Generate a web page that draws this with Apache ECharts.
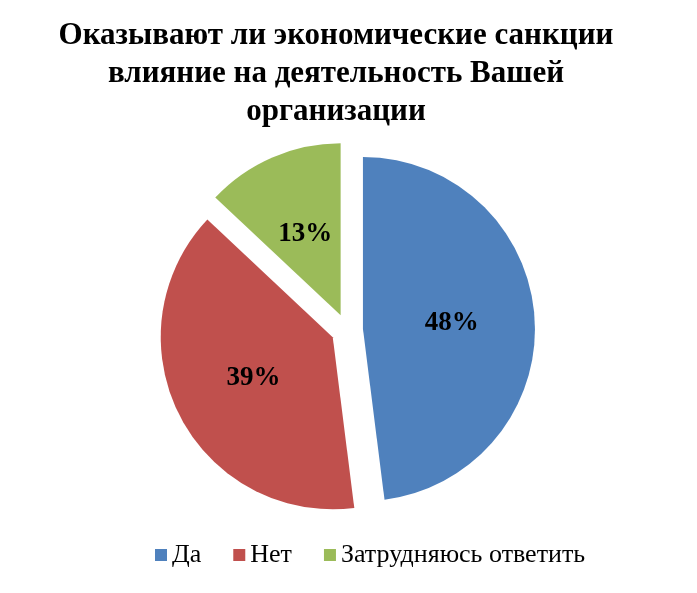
<!DOCTYPE html>
<html>
<head>
<meta charset="utf-8">
<script src="https://cdn.jsdelivr.net/npm/echarts@6/dist/echarts.min.js"></script>
<style>html,body{margin:0;padding:0;background:#fff}#chart{width:697px;height:593px}</style>
</head>
<body>
<div id="chart"></div>
<script>
var categories = ["Да", "Нет", "Затрудняюсь ответить"];
var values = [48, 39, 13];
var colors = ["#4F81BD", "#C0504D", "#9BBB59"];

var chart = echarts.init(document.getElementById("chart"));
// сдвиг подписей ближе к положению на оригинале
var labelShift = [[30, -9], [-34, 19], [-19, -40]];
var data = categories.map(function (name, i) {
	return {
		name: name,
		value: values[i],
		selected: true,
		itemStyle: { color: colors[i] },
		label: { offset: labelShift[i] }
	};
});
chart.setOption({
	animation: false,
	title: {
		text: "Оказывают ли экономические санкции\nвлияние на деятельность Вашей\nорганизации",
		left: 331,
		textAlign: "center",
		top: 12,
		textStyle: { fontFamily: "Liberation Serif", fontWeight: "bold", fontSize: 31, lineHeight: 38, color: "#000" }
	},
	legend: {
		bottom: 20,
		left: 150,
		icon: "rect",
		itemWidth: 12,
		itemHeight: 12,
		itemGap: 32,
		textStyle: { fontFamily: "Liberation Serif", fontSize: 26, color: "#000" },
		data: categories
	},
	series: [{
		type: "pie",
		center: [347, 330],
		radius: 172,
		startAngle: 90,
		clockwise: true,
		selectedMode: "multiple",
		selectedOffset: 16,
		label: {
			position: "inner",
			formatter: "{c}%",
			fontFamily: "Liberation Serif",
			fontWeight: "bold",
			fontSize: 27,
			color: "#000"
		},
		labelLine: { show: false },
		emphasis: { disabled: true },
		data: data
	}]
});
</script>
</body>
</html>
